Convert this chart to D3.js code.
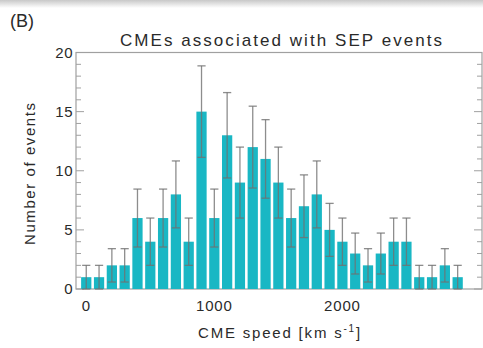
<!DOCTYPE html>
<html>
<head>
<meta charset="utf-8">
<script src="https://cdn.jsdelivr.net/npm/d3@7"></script>
<style>
  html, body { margin: 0; padding: 0; background: #fff; }
  svg { display: block; }
  text { font-family: "Liberation Sans", Arial, sans-serif; fill: #2a2a2a; }
</style>
</head>
<body>
<svg id="chart" width="483" height="348"></svg>
<script>
// Histogram of CME speeds (100 km/s bins, centred on multiples of 100)
const speedBins = [0, 100, 200, 300, 400, 500, 600, 700, 800, 900,
                   1000, 1100, 1200, 1300, 1400, 1500, 1600, 1700, 1800, 1900,
                   2000, 2100, 2200, 2300, 2400, 2500, 2600, 2700, 2800, 2900];
const counts = [1, 1, 2, 2, 6, 4, 6, 8, 4, 15,
                6, 13, 9, 12, 11, 9, 6, 7, 8, 5,
                4, 3, 2, 3, 4, 4, 1, 1, 2, 1];
// Poisson uncertainties drawn as error bars
const errors = [1, 1, 1.41, 1.41, 2.45, 2, 2.45, 2.83, 2, 3.87,
                2.45, 3.61, 3, 3.46, 3.32, 3, 2.45, 2.65, 2.83, 2.24,
                2, 1.73, 1.41, 1.73, 2, 2, 1, 1, 1.41, 1];
const xTicks = [0, 1000, 2000];
const yMajor = [0, 5, 10, 15, 20];
const yMinor = d3.range(0, 21);

const svg = d3.select("#chart");
const plotL = 76, plotR = 482, plotT = 52.5, plotB = 289;

const x = d3.scaleLinear().domain([-80, 3090]).range([plotL, plotR]);
const y = d3.scaleLinear().domain([0, 20]).range([plotB, plotT]);
const binW = 80; // bar width in km/s

// faint shading along the upper edge
const defs = svg.append("defs");
const g = defs.append("linearGradient").attr("id", "edge").attr("x1", 0).attr("x2", 0).attr("y1", 0).attr("y2", 1);
g.append("stop").attr("offset", "0%").attr("stop-color", "#c8c8c8");
g.append("stop").attr("offset", "100%").attr("stop-color", "#ffffff");
svg.append("rect").attr("x", 0).attr("y", 0).attr("width", 483).attr("height", 8).attr("fill", "url(#edge)");

// frame
const axisColor = "#a0a0a0";
svg.append("rect")
  .attr("x", plotL).attr("y", plotT)
  .attr("width", plotR - plotL).attr("height", plotB - plotT)
  .attr("fill", "none").attr("stroke", axisColor).attr("stroke-width", 1.2);

// y ticks (inward, both sides)
const tickG = svg.append("g").attr("stroke", axisColor).attr("stroke-width", 1);
yMinor.forEach(v => {
  const len = yMajor.includes(v) ? 8 : 5;
  tickG.append("line").attr("x1", plotL).attr("x2", plotL + len).attr("y1", y(v)).attr("y2", y(v));
  tickG.append("line").attr("x1", plotR).attr("x2", plotR - len).attr("y1", y(v)).attr("y2", y(v));
});
// x ticks (inward from the bottom)
xTicks.forEach(v => {
  tickG.append("line").attr("x1", x(v)).attr("x2", x(v)).attr("y1", plotB).attr("y2", plotB - 8);
});

// bars
svg.append("g").selectAll("rect")
  .data(counts)
  .join("rect")
  .attr("x", (d, i) => x(speedBins[i] - binW / 2))
  .attr("width", (d, i) => x(speedBins[i] + binW / 2) - x(speedBins[i] - binW / 2))
  .attr("y", d => y(d))
  .attr("height", d => y(0) - y(d))
  .attr("fill", "#19b7c4");

// error bars
const capHalf = 32;
const eg = svg.append("g").attr("stroke", "#707070").attr("stroke-width", 1.3).attr("stroke-opacity", 0.8);
counts.forEach((c, i) => {
  const cx = x(speedBins[i]);
  const lo = y(Math.max(0, c - errors[i])), hi = y(c + errors[i]);
  const hw = x(speedBins[i] + capHalf) - cx;
  eg.append("line").attr("x1", cx).attr("x2", cx).attr("y1", lo).attr("y2", hi);
  eg.append("line").attr("x1", cx - hw).attr("x2", cx + hw).attr("y1", hi).attr("y2", hi);
  eg.append("line").attr("x1", cx - hw).attr("x2", cx + hw).attr("y1", lo).attr("y2", lo);
});

// y tick labels
svg.append("g").selectAll("text")
  .data(yMajor)
  .join("text")
  .attr("x", plotL - 3)
  .attr("y", d => y(d) + 5)
  .attr("text-anchor", "end")
  .attr("font-size", 15)
  .attr("letter-spacing", 0.5)
  .text(d => d);

// x tick labels
svg.append("g").selectAll("text")
  .data(xTicks)
  .join("text")
  .attr("x", d => x(d))
  .attr("y", 311)
  .attr("text-anchor", "middle")
  .attr("font-size", 15)
  .attr("letter-spacing", 0.8)
  .text(d => d);

// panel letter
svg.append("text").attr("x", 10).attr("y", 27).attr("font-size", 18).text("(B)");

// title
svg.append("text")
  .attr("x", 281).attr("y", 46)
  .attr("text-anchor", "middle")
  .attr("font-size", 17)
  .attr("textLength", 322).attr("lengthAdjust", "spacing")
  .text("CMEs associated with SEP events");

// y axis label
svg.append("text")
  .attr("transform", "translate(35,174) rotate(-90)")
  .attr("text-anchor", "middle")
  .attr("font-size", 15)
  .attr("textLength", 142).attr("lengthAdjust", "spacing")
  .text("Number of events");

// x axis label
const xl = svg.append("text")
  .attr("x", 280).attr("y", 338)
  .attr("text-anchor", "middle")
  .attr("font-size", 15)
  .attr("letter-spacing", 1.8);
xl.append("tspan").text("CME speed [km s");
xl.append("tspan").attr("font-size", 10).attr("dy", -6).text("-1");
xl.append("tspan").attr("dy", 6).text("]");
</script>
</body>
</html>
